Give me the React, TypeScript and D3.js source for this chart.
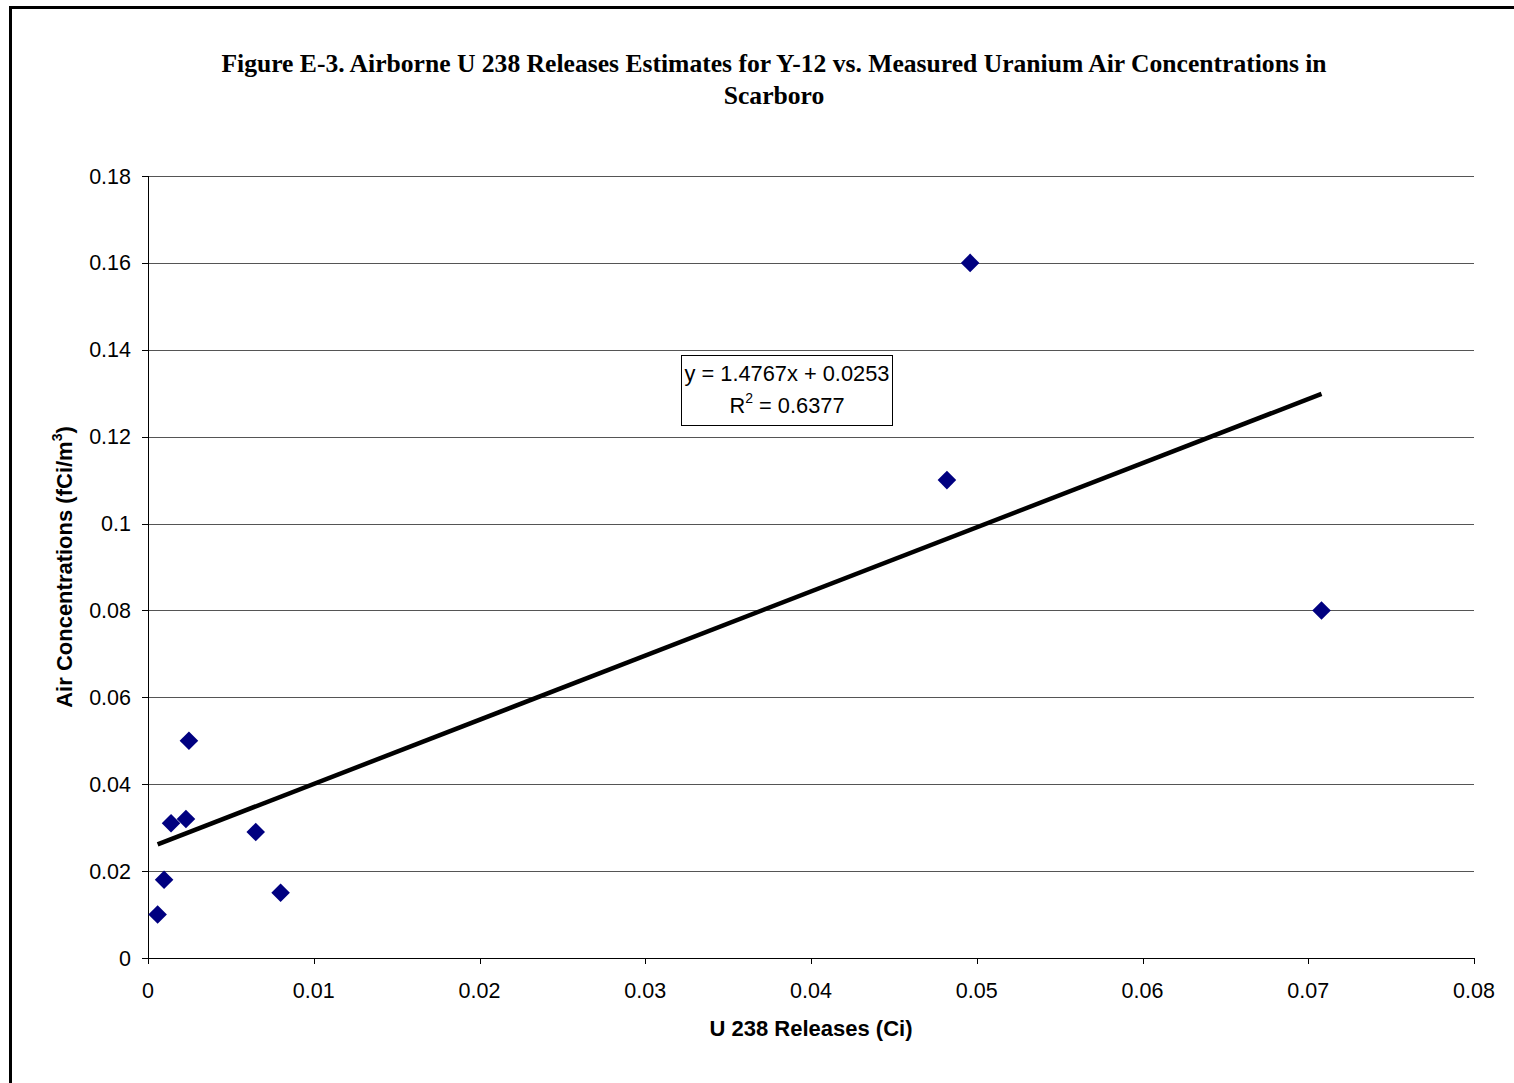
import React from "react";
import * as d3 from "d3";

const releases = [0.00058, 0.00097, 0.00139, 0.00229, 0.00247, 0.0065, 0.008, 0.0482, 0.0496, 0.0708];
const concentrations = [0.01, 0.018, 0.031, 0.032, 0.05, 0.029, 0.015, 0.11, 0.16, 0.08];
const xTicks = [0, 0.01, 0.02, 0.03, 0.04, 0.05, 0.06, 0.07, 0.08];
const yTicks = [0, 0.02, 0.04, 0.06, 0.08, 0.1, 0.12, 0.14, 0.16, 0.18];
const slope = 1.4767;
const intercept = 0.0253;
const rSquared = 0.6377;

const W = 1514;
const H = 1083;
const left = 148, right = 1474, top = 176, bottom = 958;

export default function App() {
  const x = d3.scaleLinear().domain([0, 0.08]).range([left, right]);
  const y = d3.scaleLinear().domain([0, 0.18]).range([bottom, top]);
  const xMin = d3.min(releases) as number;
  const xMax = d3.max(releases) as number;
  const diamond = d3.symbol().type(d3.symbolDiamond2).size(220)() as string;
  const trend = d3.line<number>().x((d) => x(d)).y((d) => y(slope * d + intercept))([xMin, xMax]) as string;
  const arial = "'Liberation Sans', Arial, sans-serif";
  const times = "'Liberation Serif', 'Times New Roman', serif";
  return (
    <svg width={W} height={H} style={{ position: "absolute", left: 0, top: 0, background: "#fff" }}>
      <rect x={0} y={0} width={W} height={H} fill="#fff" />
      <rect x={10.5} y={7.5} width={W + 20} height={H + 20} fill="none" stroke="#000" strokeWidth={3} />
      <text x={774} y={72} textAnchor="middle" fontFamily={times} fontWeight="bold" fontSize={25.6}>
        Figure E-3. Airborne U 238 Releases Estimates for Y-12 vs. Measured Uranium Air Concentrations in
      </text>
      <text x={774} y={104} textAnchor="middle" fontFamily={times} fontWeight="bold" fontSize={25.6}>
        Scarboro
      </text>
      {yTicks.map((t) => (
        <g key={"y" + t}>
          {t > 0 && <line x1={left} x2={right} y1={Math.round(y(t)) + 0.5} y2={Math.round(y(t)) + 0.5} stroke="#555" strokeWidth={1} />}
          <line x1={left - 6} x2={left} y1={Math.round(y(t)) + 0.5} y2={Math.round(y(t)) + 0.5} stroke="#000" strokeWidth={1} />
          <text x={131} y={y(t) + 7.5} textAnchor="end" fontFamily={arial} fontSize={21.5}>
            {String(t)}
          </text>
        </g>
      ))}
      {xTicks.map((t) => (
        <g key={"x" + t}>
          <line x1={Math.round(x(t)) + 0.5} x2={Math.round(x(t)) + 0.5} y1={bottom} y2={bottom + 6} stroke="#000" strokeWidth={1} />
          <text x={x(t)} y={998} textAnchor="middle" fontFamily={arial} fontSize={21.5}>
            {String(t)}
          </text>
        </g>
      ))}
      <line x1={left + 0.5} x2={left + 0.5} y1={top} y2={bottom} stroke="#000" strokeWidth={1} />
      <line x1={left} x2={right} y1={bottom + 0.5} y2={bottom + 0.5} stroke="#000" strokeWidth={1} />
      <path d={trend} stroke="#000" strokeWidth={4.5} fill="none" />
      {releases.map((r, i) => (
        <path key={i} d={diamond} transform={`translate(${x(r)},${y(concentrations[i])})`} fill="#000080" />
      ))}
      <rect x={681.5} y={355.5} width={211} height={70} fill="#fff" stroke="#000" strokeWidth={1} />
      <text x={787} y={381} textAnchor="middle" fontFamily={arial} fontSize={21.8}>
        {`y = ${slope}x + ${intercept}`}
      </text>
      <text x={787} y={413} textAnchor="middle" fontFamily={arial} fontSize={21.8}>
        R<tspan dy={-10} fontSize={14}>2</tspan><tspan dy={10}>{` = ${rSquared}`}</tspan>
      </text>
      <text x={811} y={1036} textAnchor="middle" fontFamily={arial} fontSize={22} fontWeight="bold">
        U 238 Releases (Ci)
      </text>
      <text transform={`translate(72,567) rotate(-90)`} textAnchor="middle" fontFamily={arial} fontSize={22} fontWeight="bold">
        Air Concentrations (fCi/m<tspan dy={-10} fontSize={14}>3</tspan><tspan dy={10}>)</tspan>
      </text>
    </svg>
  );
}
